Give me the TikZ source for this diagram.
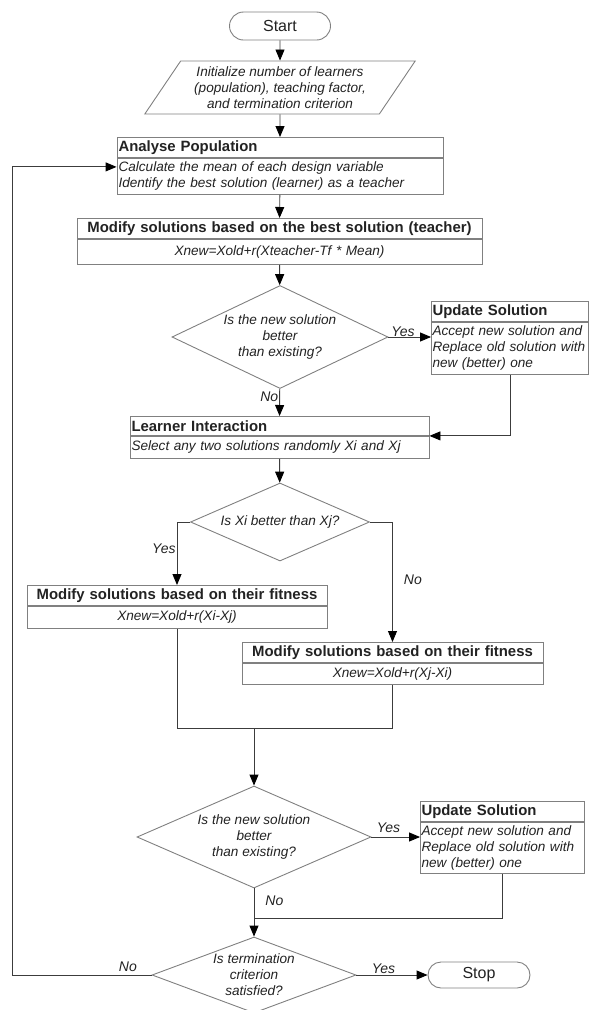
\documentclass[tikz,border=0pt]{standalone}
\usepackage{fontspec}
\setmainfont{Liberation Sans}
\usepackage{tikz}
\usetikzlibrary{arrows.meta, positioning, shapes.geometric, shapes.misc}
\definecolor{boxgray}{RGB}{128,128,128}
\definecolor{linegray}{RGB}{60,60,60}
\definecolor{txt}{RGB}{34,34,34}
\newcommand\bodyfnt{\itshape\fontsize{13.6}{16}\selectfont}
\newcommand\headfnt{\bfseries\fontsize{14.9}{17}\selectfont}
\newcommand\termfnt{\fontsize{16}{18}\selectfont}
\newcommand\lblfnt{\itshape\fontsize{14}{16}\selectfont}

\begin{document}
\begin{tikzpicture}[
        x=1pt, y=-1pt,
        base/.style={draw=boxgray, line width=0.9pt, text=txt},
        term/.style={base, rounded rectangle, font=\termfnt, minimum width=101pt, minimum height=28pt, inner sep=0pt},
        io/.style={base, trapezium, trapezium left angle=53.6, trapezium right angle=126.4, trapezium stretches=true, minimum width=271pt, minimum height=53pt, font=\bodyfnt, align=center, inner sep=0pt},
        head/.style={base, rectangle, font=\headfnt, minimum height=20pt, inner xsep=1.5pt, inner ysep=0pt},
        body/.style={base, rectangle, font=\bodyfnt, inner xsep=1.5pt, inner ysep=0pt},
        decision/.style={base, diamond, font=\bodyfnt, align=center, inner sep=0pt},
        line/.style={draw=linegray, line width=0.9pt},
        arrow/.style={line, -{Triangle[length=11pt, width=9pt, color=black]}},
        lbl/.style={font=\lblfnt, text=txt, inner sep=1pt}
    ]
    \useasboundingbox (0,0) rectangle (590,1010);

    % start and input
    \node[term] (start) at (280,26) {Start};
    \node[io] (init) at (280,87.5) {Initialize number of learners\\(population), teaching factor,\\and termination criterion};

    % teacher phase
    \node[head, anchor=north, text width=323pt, align=left] (popH) at (280,137) {Analyse Population};
    \node[body, below=0pt of popH, text width=323pt, minimum height=36pt, align=left] (popB) {Calculate the mean of each design variable\\Identify the best solution (learner) as a teacher};
    \node[head, anchor=north, text width=402pt, align=center] (tchH) at (279.5,218) {Modify solutions based on the best solution (teacher)};
    \node[body, below=0pt of tchH, text width=402pt, minimum height=25pt, align=center] (tchB) {Xnew=Xold+r(Xteacher-Tf * Mean)};
    \node[decision, aspect=2.1, minimum width=216pt, minimum height=103pt] (dec1) at (280,337) {Is the new solution\\better\\than existing?};
    \node[head, anchor=north, text width=155pt, inner xsep=1pt, align=left] (upd1H) at (510,301) {Update Solution};
    \node[body, below=0pt of upd1H, text width=155pt, inner xsep=1pt, minimum height=52pt, align=left] (upd1B) {Accept new solution and\\Replace old solution with\\new (better) one};

    % learner phase
    \node[head, anchor=north, text width=296pt, align=left, minimum height=19pt] (lrnH) at (279.5,416) {Learner Interaction};
    \node[body, below=0pt of lrnH, text width=296pt, minimum height=22pt, align=left] (lrnB) {Select any two solutions randomly Xi and Xj};
    \node[decision, aspect=2.3, minimum width=179pt, minimum height=78pt] (dec2) at (280,522) {Is Xi better than Xj?};
    \node[head, anchor=north, text width=297pt, align=center] (lmodH) at (177,585) {Modify solutions based on their fitness};
    \node[body, below=0pt of lmodH, text width=297pt, minimum height=22pt, align=center] (lmodB) {Xnew=Xold+r(Xi-Xj)};
    \node[head, anchor=north, text width=298pt, align=center] (rmodH) at (392.5,642) {Modify solutions based on their fitness};
    \node[body, below=0pt of rmodH, text width=298pt, minimum height=21pt, align=center] (rmodB) {Xnew=Xold+r(Xj-Xi)};
    \node[decision, aspect=2.3, minimum width=234pt, minimum height=102pt] (dec3) at (254,837) {Is the new solution\\better\\than existing?};
    \node[head, anchor=north, text width=162pt, inner xsep=1pt, align=left] (upd2H) at (502.5,801) {Update Solution};
    \node[body, below=0pt of upd2H, text width=162pt, inner xsep=1pt, minimum height=51pt, align=left] (upd2B) {Accept new solution and\\Replace old solution with\\new (better) one};

    % termination
    \node[decision, aspect=2.68, minimum width=204pt, minimum height=76pt] (dec4) at (254,975) {Is termination\\criterion\\satisfied?};
    \node[term, minimum width=102pt, minimum height=26pt] (stop) at (479,975) {Stop};

    \coordinate[above=57pt of dec3.north] (merge);
    \coordinate[below=30pt of dec3.south] (rejoin);

    % connectors
    \path [arrow] (start) -- (init);
    \path [arrow] (init) -- (popH);
    \path [arrow] (popB) -- (tchH);
    \path [arrow] (tchB) -- (dec1);
    \path [arrow] (dec1.east) -- node[lbl, above, pos=0.34, inner sep=0pt] {Yes} (dec1.east -| upd1B.west);
    \path [arrow] (dec1) -- node[lbl, left, pos=0.3] {No} (lrnH);
    \path [arrow] (upd1B.south) |- (lrnH.south east);
    \path [arrow] (lrnB) -- (dec2);
    \path [arrow] (dec2.west) -| node[lbl, left, pos=0.71] {Yes} (lmodH.north);
    \path [arrow] (dec2.east) -| node[lbl, right, pos=0.74, xshift=10pt] {No} (rmodH.north);
    \path [line] (lmodB.south) |- (merge) -| (rmodB.south);
    \path [arrow] (merge) -- (dec3);
    \path [arrow] (dec3.east) -- node[lbl, above, pos=0.35, yshift=3pt] {Yes} (dec3.east -| upd2B.west);
    \path [arrow] (dec3) -- node[lbl, right, pos=0.26, xshift=10pt] {No} (dec4);
    \path [line] (upd2B.south) |- (rejoin);
    \path [arrow] (dec4) -- node[lbl, above, pos=0.38] {Yes} (stop);
    \path [arrow] (dec4.west) -- node[lbl, above, pos=0.17, yshift=2pt] {No} ++(-139,0) |- ([yshift=-9pt]popH.south west);

\end{tikzpicture}
\end{document}
